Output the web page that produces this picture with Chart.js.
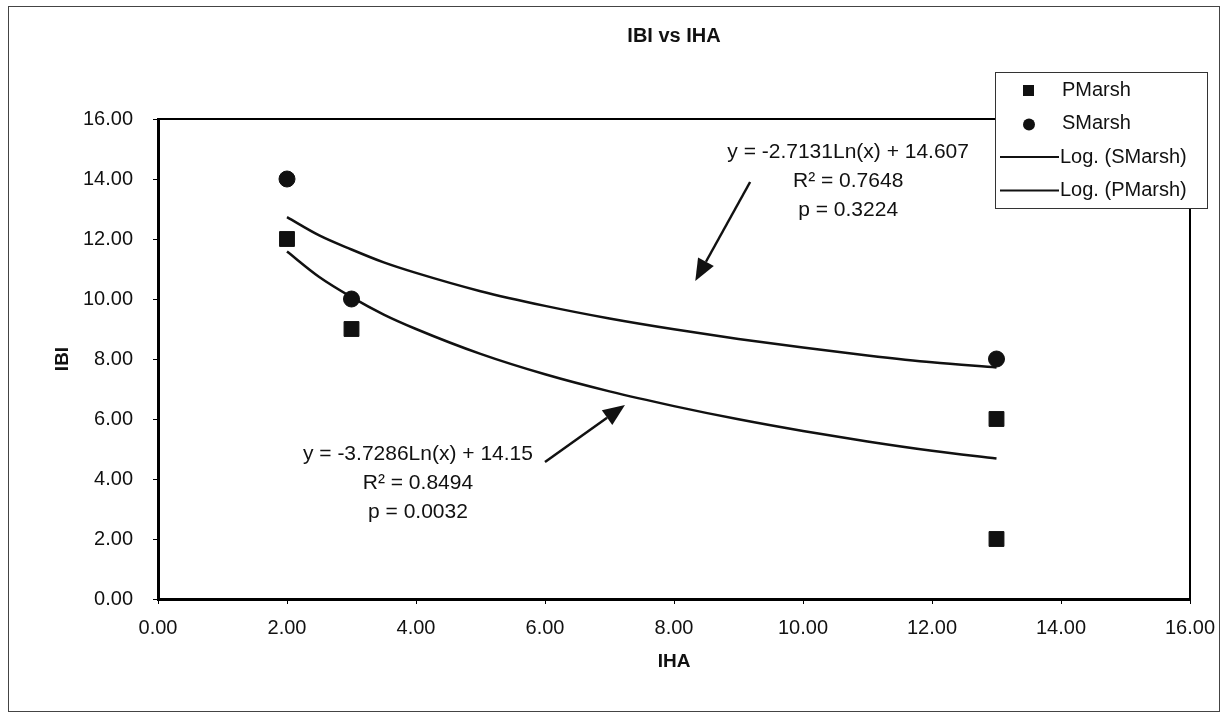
<!DOCTYPE html>
<html>
<head>
<meta charset="utf-8">
<title>IBI vs IHA</title>
<script src="https://cdn.jsdelivr.net/npm/chart.js@4.4.1/dist/chart.umd.min.js"></script>
<style>
html, body { margin: 0; padding: 0; background: #fff; }
#wrap { position: relative; width: 1229px; height: 714px; }
</style>
</head>
<body>
<div id="wrap"><canvas id="ibiChart" width="1229" height="714"></canvas></div>
<script>
// measured points
const pMarshX = [2, 3, 13, 13];
const pMarshY = [12, 9, 6, 2];
const sMarshX = [2, 3, 13];
const sMarshY = [14, 10, 8];

// trend lines
const trendX = [2, 2.5, 3, 3.5, 4, 5, 6, 7, 8, 9, 10, 11, 12, 13];
const sLogY = [12.73, 12.12, 11.65, 11.22, 10.87, 10.26, 9.77, 9.35, 8.99, 8.67, 8.38, 8.12, 7.89, 7.72];
const pLogY = [11.58, 10.73, 10.06, 9.48, 9.0, 8.17, 7.49, 6.92, 6.43, 5.99, 5.6, 5.25, 4.94, 4.68];

const xTicks = [0, 2, 4, 6, 8, 10, 12, 14, 16];
const yTicks = [0, 2, 4, 6, 8, 10, 12, 14, 16];
const seriesNames = ['PMarsh', 'SMarsh', 'Log. (SMarsh)', 'Log. (PMarsh)'];
const sEquation = ['y = -2.7131Ln(x) + 14.607', 'R\u00B2 = 0.7648', 'p = 0.3224'];
const pEquation = ['y = -3.7286Ln(x) + 14.15', 'R\u00B2 = 0.8494', 'p = 0.0032'];

const toPoints = (xs, ys) => xs.map((x, i) => ({ x: x, y: ys[i] }));
const FONT = "'Liberation Sans', Arial, sans-serif";
const INK = '#111';

Chart.defaults.font.family = FONT;
Chart.defaults.color = INK;

const drawArrow = (ctx, x1, y1, x2, y2) => {
    const ang = Math.atan2(y2 - y1, x2 - x1);
    const headLen = 22, headHalf = 9;
    const bx = x2 - headLen * Math.cos(ang), by = y2 - headLen * Math.sin(ang);
    ctx.beginPath();
    ctx.moveTo(x1, y1);
    ctx.lineTo(bx, by);
    ctx.lineWidth = 2.5;
    ctx.strokeStyle = INK;
    ctx.stroke();
    ctx.beginPath();
    ctx.moveTo(x2, y2);
    ctx.lineTo(bx + headHalf * Math.sin(ang), by - headHalf * Math.cos(ang));
    ctx.lineTo(bx - headHalf * Math.sin(ang), by + headHalf * Math.cos(ang));
    ctx.closePath();
    ctx.fillStyle = INK;
    ctx.fill();
};

const drawNote = (ctx, lines, cx, cy) => {
    ctx.font = '21px ' + FONT;
    ctx.fillStyle = INK;
    ctx.textAlign = 'center';
    ctx.textBaseline = 'middle';
    lines.forEach((t, i) => ctx.fillText(t, cx, cy + i * 29));
};

const decor = {
    id: 'decor',
    beforeDraw(chart) {
        const { ctx, width, height } = chart;
        ctx.save();
        ctx.fillStyle = '#fff';
        ctx.fillRect(0, 0, width, height);
        // outer frame
        ctx.strokeStyle = '#444';
        ctx.lineWidth = 1;
        ctx.strokeRect(8.5, 6.5, 1211, 705);
        ctx.restore();
    },
    afterDraw(chart) {
        const { ctx, chartArea: a, scales: { x, y } } = chart;
        ctx.save();

        // top and right edges of the plot box
        ctx.strokeStyle = '#000';
        ctx.lineWidth = 2;
        ctx.beginPath();
        ctx.moveTo(a.left, a.top);
        ctx.lineTo(a.right, a.top);
        ctx.lineTo(a.right, a.bottom);
        ctx.stroke();

        // title
        ctx.font = 'bold 20px ' + FONT;
        ctx.fillStyle = INK;
        ctx.textAlign = 'center';
        ctx.textBaseline = 'middle';
        ctx.fillText('IBI vs IHA', (a.left + a.right) / 2, 36);

        // trend line notes
        drawNote(ctx, sEquation, x.getPixelForValue(10.7), y.getPixelForValue(14.9));
        drawArrow(ctx, x.getPixelForValue(9.18), y.getPixelForValue(13.9),
            x.getPixelForValue(8.33), y.getPixelForValue(10.6));
        drawNote(ctx, pEquation, x.getPixelForValue(4.03), y.getPixelForValue(4.83));
        drawArrow(ctx, x.getPixelForValue(6.0), y.getPixelForValue(4.57),
            x.getPixelForValue(7.24), y.getPixelForValue(6.47));

        // legend box
        const lx = 995, ly = 72, lw = 212, lh = 136;
        ctx.fillStyle = '#fff';
        ctx.fillRect(lx, ly, lw, lh);
        ctx.strokeStyle = '#333';
        ctx.lineWidth = 1;
        ctx.strokeRect(lx + 0.5, ly + 0.5, lw, lh);
        ctx.font = '20px ' + FONT;
        ctx.textAlign = 'left';
        ctx.textBaseline = 'middle';
        seriesNames.forEach((name, i) => {
            const ry = ly + 18 + i * 33.5;
            ctx.fillStyle = INK;
            if (i === 0) {
                ctx.fillRect(lx + 28, ry - 5, 11, 11);
            } else if (i === 1) {
                ctx.beginPath();
                ctx.arc(lx + 34, ry + 1, 6, 0, Math.PI * 2);
                ctx.fill();
            } else {
                ctx.beginPath();
                ctx.moveTo(lx + 5, ry);
                ctx.lineTo(lx + 64, ry);
                ctx.strokeStyle = INK;
                ctx.lineWidth = 2;
                ctx.stroke();
            }
            ctx.fillStyle = INK;
            ctx.fillText(name, i < 2 ? lx + 67 : lx + 65, ry);
        });
        ctx.restore();
    }
};

const axisCommon = (ticksArr) => ({
    type: 'linear',
    min: 0,
    max: 16,
    afterBuildTicks: s => { s.ticks = ticksArr.map(v => ({ value: v })); },
    grid: { drawOnChartArea: false, drawTicks: true, tickLength: 5, color: '#000', lineWidth: 1 },
    border: { color: '#000', width: 3 }
});

const ctx = document.querySelector('#ibiChart').getContext('2d');

new Chart(ctx, {
    type: 'scatter',
    data: {
        datasets: [
            {
                label: seriesNames[0],
                data: toPoints(pMarshX, pMarshY),
                pointStyle: 'rect',
                pointRadius: 10.5,
                backgroundColor: INK,
                borderColor: INK,
                borderWidth: 1
            },
            {
                label: seriesNames[1],
                data: toPoints(sMarshX, sMarshY),
                pointStyle: 'circle',
                pointRadius: 8,
                backgroundColor: INK,
                borderColor: INK,
                borderWidth: 1
            },
            {
                label: seriesNames[2],
                data: toPoints(trendX, sLogY),
                showLine: true,
                pointRadius: 0,
                borderColor: INK,
                borderWidth: 2.5,
                cubicInterpolationMode: 'monotone'
            },
            {
                label: seriesNames[3],
                data: toPoints(trendX, pLogY),
                showLine: true,
                pointRadius: 0,
                borderColor: INK,
                borderWidth: 2.5,
                cubicInterpolationMode: 'monotone'
            }
        ]
    },
    options: {
        responsive: false,
        animation: false,
        layout: { padding: { top: 119, right: 39, left: 0, bottom: 0 } },
        plugins: {
            legend: { display: false },
            tooltip: { enabled: false },
            title: { display: false }
        },
        scales: {
            x: Object.assign(axisCommon(xTicks), {
                afterFit: s => { s.height = 115; },
                ticks: {
                    font: { size: 20 },
                    color: INK,
                    padding: 12,
                    maxRotation: 0,
                    autoSkip: false,
                    callback: v => Number(v).toFixed(2)
                },
                title: {
                    display: true,
                    text: 'IHA',
                    font: { size: 19, weight: 'bold' },
                    color: INK,
                    padding: { top: 0, bottom: 41 }
                }
            }),
            y: Object.assign(axisCommon(yTicks), {
                afterFit: s => { s.width = 158; },
                ticks: {
                    font: { size: 20 },
                    color: INK,
                    padding: 20,
                    autoSkip: false,
                    callback: v => Number(v).toFixed(2)
                },
                title: {
                    display: true,
                    text: 'IBI',
                    font: { size: 19, weight: 'bold' },
                    color: INK,
                    padding: { top: 51, bottom: 0 }
                }
            })
        }
    },
    plugins: [decor]
});
</script>
</body>
</html>
